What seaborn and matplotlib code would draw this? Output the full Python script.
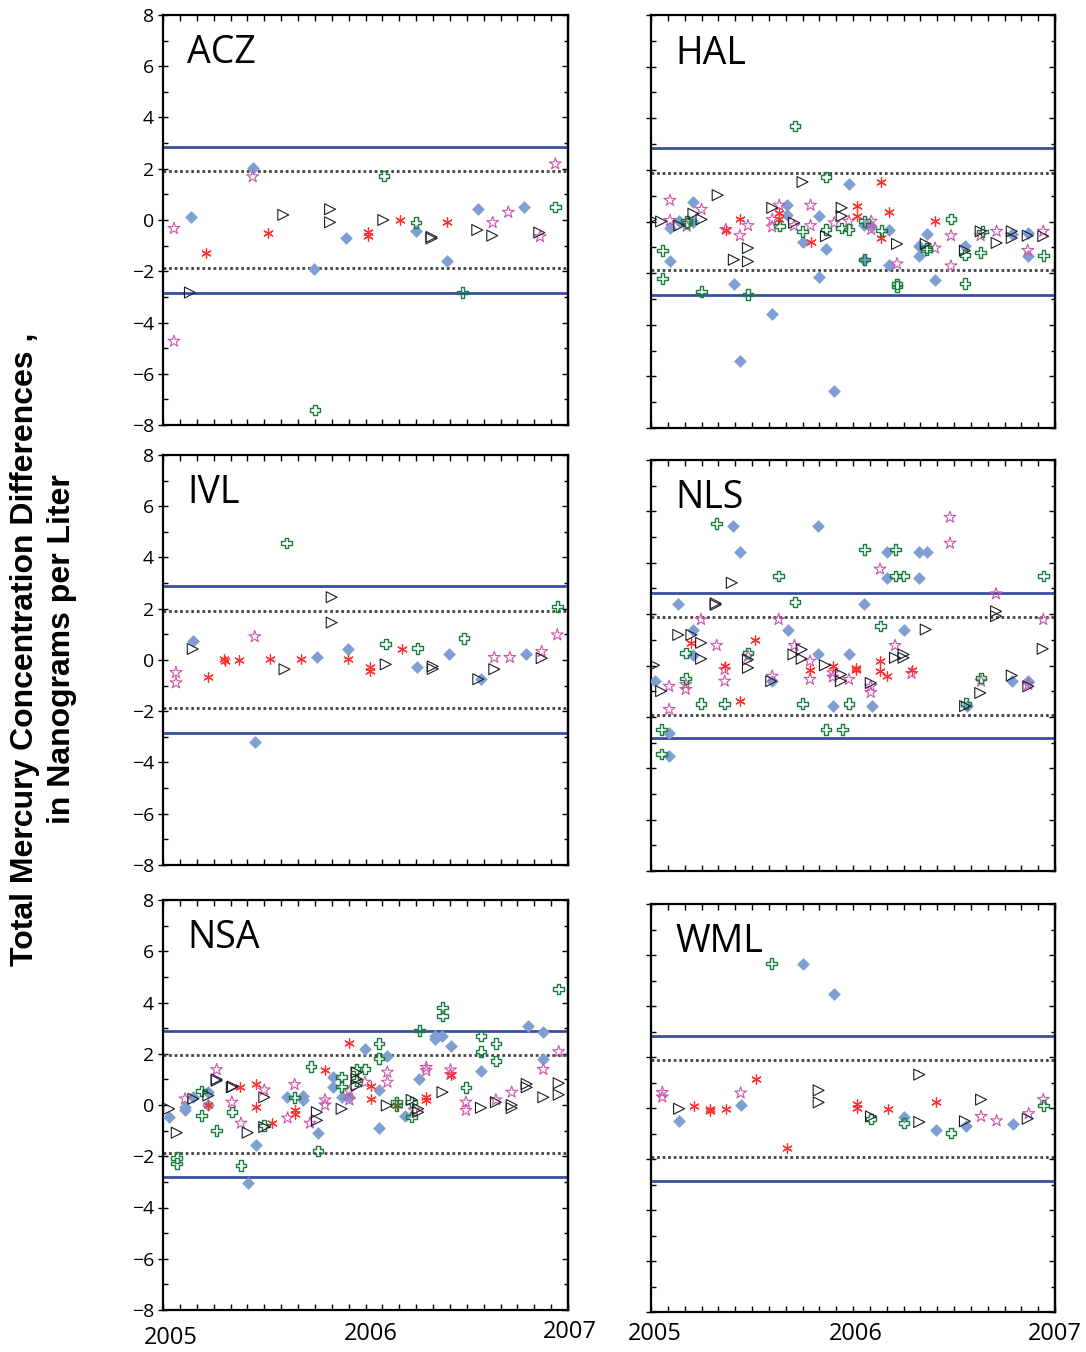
import numpy as np
import pandas as pd
import matplotlib
matplotlib.use("Agg")
import matplotlib.pyplot as plt
from matplotlib.ticker import MultipleLocator
from matplotlib.transforms import ScaledTranslation
import seaborn as sns

sns.set_theme(style="white")
plt.rcParams["font.family"] = ["Open Sans", "DejaVu Sans"]
plt.rcParams.update({"text.color": "black", "xtick.color": "black", "ytick.color": "black",
                     "axes.labelcolor": "black", "axes.edgecolor": "black"})

# ---- data: (decimal year, difference in ng/L) per site and sample pairing ----
ACZ_diamond = [(2005.137, 0.10), (2005.443, 2.02), (2005.748, -1.90), (2005.904, -0.69),
               (2006.249, -0.42), (2006.404, -1.60), (2006.554, 0.42), (2006.784, 0.50)]
ACZ_star = [(2005.054, -0.33), (2005.054, -4.73), (2005.443, 1.69), (2006.628, -0.10),
            (2006.705, 0.30), (2006.862, -0.65), (2006.937, 2.19)]
ACZ_asterisk = [(2005.210, -1.30), (2005.517, -0.52), (2006.012, -0.45), (2006.012, -0.62),
                (2006.170, 0.00), (2006.404, -0.09)]
ACZ_plus = [(2005.750, -7.42), (2006.091, 1.72), (2006.249, -0.09), (2006.478, -2.83),
            (2006.937, 0.50)]
ACZ_triangle = [(2005.133, -2.83), (2005.594, 0.20), (2005.825, 0.42), (2005.825, -0.09),
                (2006.088, 0.00), (2006.326, -0.66), (2006.326, -0.72), (2006.552, -0.39),
                (2006.626, -0.61), (2006.858, -0.49)]

HAL_diamond = [(2005.094, -0.25), (2005.094, -1.52), (2005.140, 0.01), (2005.210, 0.75),
               (2005.210, 0.00), (2005.410, -2.42), (2005.440, -5.39), (2005.600, -3.60),
               (2005.675, 0.63), (2005.675, 0.27), (2005.750, -0.81), (2005.830, 0.23),
               (2005.830, -2.14), (2005.866, -1.07), (2005.906, -6.56), (2005.980, 1.45),
               (2006.056, -0.12), (2006.056, -1.48), (2006.090, -0.16), (2006.180, -0.31),
               (2006.180, -1.68), (2006.328, -0.96), (2006.328, -1.33), (2006.365, -0.47),
               (2006.406, -2.27), (2006.554, -0.96), (2006.786, -0.47), (2006.865, -0.44),
               (2006.865, -1.33)]
HAL_star = [(2005.094, 0.82), (2005.094, 0.04), (2005.177, -0.18), (2005.250, 0.47),
            (2005.370, -0.31), (2005.440, -0.55), (2005.480, -0.16), (2005.600, 0.08),
            (2005.600, -0.21), (2005.635, 0.63), (2005.708, -0.16), (2005.790, 0.63),
            (2005.790, -0.16), (2005.907, -0.05), (2005.980, 0.01), (2006.090, -0.31),
            (2006.090, 0.01), (2006.218, -1.64), (2006.406, -1.03), (2006.485, -0.55),
            (2006.485, -1.72), (2006.632, -0.55), (2006.711, -0.38), (2006.865, -1.12),
            (2006.942, -0.38)]
HAL_asterisk = [(2005.370, -0.31), (2005.440, 0.10), (2005.635, 0.31), (2005.635, 0.08),
                (2005.790, -0.81), (2006.018, 0.60), (2006.018, 0.23), (2006.140, 1.53),
                (2006.140, -0.64), (2006.180, 0.36), (2006.406, 0.01)]
HAL_plus = [(2005.056, -1.13), (2005.056, -2.21), (2005.177, 0.01), (2005.177, -0.05),
            (2005.250, -2.72), (2005.480, -2.83), (2005.635, -0.18), (2005.713, 3.70),
            (2005.750, -0.38), (2005.866, -0.31), (2005.866, 1.73), (2005.944, -0.25),
            (2005.980, -0.31), (2006.056, 0.01), (2006.056, -1.48), (2006.140, -0.35),
            (2006.218, -2.42), (2006.218, -2.52), (2006.365, -1.03), (2006.365, -1.10),
            (2006.485, 0.10), (2006.554, -1.29), (2006.554, -2.40), (2006.632, -1.20),
            (2006.640, -0.38), (2006.942, -1.32)]
HAL_triangle = [(2005.000, 0.08), (2005.050, 0.00), (2005.140, -0.16), (2005.210, 0.30),
                (2005.250, 0.08), (2005.330, 1.02), (2005.410, -1.48), (2005.480, -1.03),
                (2005.480, -1.55), (2005.600, 0.53), (2005.708, -0.05), (2005.750, 1.53),
                (2005.866, -0.57), (2005.944, 0.53), (2005.944, 0.21), (2006.218, -0.87),
                (2006.360, -0.87), (2006.554, -1.13), (2006.632, -0.38), (2006.711, -0.83),
                (2006.786, -0.38), (2006.786, -0.64), (2006.865, -0.55), (2006.942, -0.57)]

IVL_diamond = [(2005.147, 0.74), (2005.453, -3.19), (2005.759, 0.13), (2005.912, 0.43),
               (2006.256, -0.26), (2006.414, 0.23), (2006.570, -0.75), (2006.793, 0.23)]
IVL_star = [(2005.064, -0.49), (2005.064, -0.89), (2005.453, 0.91), (2006.636, 0.10),
            (2006.713, 0.10), (2006.870, 0.33), (2006.947, 0.98)]
IVL_asterisk = [(2005.220, -0.68), (2005.300, 0.02), (2005.306, -0.02), (2005.375, 0.00),
                (2005.528, 0.03), (2005.681, 0.03), (2005.912, 0.03), (2006.022, -0.29),
                (2006.022, -0.42), (2006.182, 0.42)]
IVL_plus = [(2005.610, 4.57), (2006.100, 0.63), (2006.256, 0.46), (2006.486, 0.85),
            (2006.947, 2.08)]
IVL_triangle = [(2005.147, 0.43), (2005.600, -0.36), (2005.833, 2.45), (2005.833, 1.46),
                (2006.100, -0.17), (2006.332, -0.25), (2006.332, -0.35), (2006.557, -0.75),
                (2006.636, -0.36), (2006.870, 0.07)]

NLS_diamond = [(2005.020, -0.61), (2005.090, -2.61), (2005.090, -3.54), (2005.135, 2.40),
               (2005.210, 1.40), (2005.210, 0.39), (2005.404, 5.42), (2005.440, 4.41),
               (2005.600, -0.61), (2005.677, 1.40), (2005.825, 5.42), (2005.825, 0.43),
               (2005.900, -1.58), (2005.980, 0.43), (2006.056, 2.38), (2006.093, -1.58),
               (2006.170, 4.41), (2006.170, 3.39), (2006.250, 1.40), (2006.328, 4.41),
               (2006.365, 4.41), (2006.328, 3.39), (2006.563, -1.58), (2006.786, -0.61),
               (2006.868, -0.61)]
NLS_star = [(2005.090, -0.81), (2005.090, -1.71), (2005.172, -0.74), (2005.172, -0.93),
            (2005.248, 1.79), (2005.325, 0.78), (2005.365, -0.16), (2005.365, -0.61),
            (2005.480, 0.36), (2005.600, -0.42), (2005.632, 1.79), (2005.710, 0.78),
            (2005.787, 0.17), (2005.787, -0.54), (2005.900, -0.28), (2005.900, -0.45),
            (2005.980, -0.54), (2006.088, -0.81), (2006.088, -1.05), (2006.134, 3.75),
            (2006.208, 0.78), (2006.290, -0.31), (2006.480, 5.77), (2006.480, 4.76),
            (2006.634, -0.61), (2006.708, 2.79), (2006.868, -0.74), (2006.942, 1.79)]
NLS_asterisk = [(2005.200, 0.88), (2005.365, -0.03), (2005.440, -1.39), (2005.516, 1.00),
                (2005.787, -0.16), (2005.900, -0.03), (2006.015, -0.10), (2006.015, -0.17),
                (2006.134, 0.19), (2006.134, -0.22), (2006.170, -0.39), (2006.290, -0.16)]
NLS_plus = [(2005.053, -2.49), (2005.053, -3.44), (2005.172, 0.49), (2005.172, -0.51),
            (2005.248, -1.49), (2005.325, 5.53), (2005.365, -1.49), (2005.480, 0.49),
            (2005.632, 3.48), (2005.713, 2.48), (2005.750, -1.49), (2005.866, -2.49),
            (2005.947, -2.49), (2005.980, -1.49), (2006.056, 4.51), (2006.137, 1.53),
            (2006.210, 4.51), (2006.210, 3.48), (2006.250, 3.48), (2006.560, -1.49),
            (2006.634, -0.48), (2006.942, 3.48)]
NLS_triangle = [(2005.015, 0.01), (2005.050, -1.00), (2005.135, 1.19), (2005.200, 1.19),
                (2005.248, 0.88), (2005.248, 0.26), (2005.320, 2.42), (2005.320, 2.36),
                (2005.400, 3.22), (2005.480, 0.23), (2005.480, -0.09), (2005.595, -0.61),
                (2005.705, 0.43), (2005.746, 0.62), (2005.746, 0.26), (2005.861, 0.01),
                (2005.940, -0.35), (2005.940, -0.61), (2006.088, -0.68), (2006.208, 0.30),
                (2006.250, 0.43), (2006.250, 0.30), (2006.360, 1.40), (2006.555, -1.58),
                (2006.630, -1.07), (2006.708, 2.11), (2006.708, 1.92), (2006.786, -0.39),
                (2006.868, -0.81), (2006.939, 0.65)]

NSA_diamond = [(2005.030, -0.47), (2005.109, -0.09), (2005.109, -0.21), (2005.150, 0.30),
               (2005.224, 0.50), (2005.224, 0.00), (2005.420, -3.06), (2005.460, -1.58),
               (2005.610, 0.30), (2005.690, 0.37), (2005.690, 0.20), (2005.765, -1.08),
               (2005.840, 1.10), (2005.840, 0.72), (2005.882, 0.30), (2005.920, 0.30),
               (2005.997, 2.20), (2006.067, 0.59), (2006.067, -0.89), (2006.108, 1.93),
               (2006.195, -0.41), (2006.266, 1.02), (2006.343, 2.70), (2006.343, 2.58),
               (2006.380, 2.70), (2006.420, 2.31), (2006.570, 1.32), (2006.800, 3.09),
               (2006.878, 2.83), (2006.878, 1.80)]
NSA_star = [(2005.109, 0.24), (2005.265, 1.38), (2005.340, 0.11), (2005.385, -0.71),
            (2005.500, 0.59), (2005.615, -0.51), (2005.650, 0.80), (2005.726, -0.71),
            (2005.800, 0.20), (2005.800, 0.00), (2005.920, 0.54), (2005.920, 0.20),
            (2005.997, 0.89), (2006.108, 1.28), (2006.108, 0.89), (2006.240, -0.20),
            (2006.300, 1.47), (2006.300, 1.34), (2006.420, 1.37), (2006.420, 1.19),
            (2006.496, 0.11), (2006.496, -0.21), (2006.644, 0.20), (2006.722, 0.50),
            (2006.878, 1.39), (2006.954, 2.08)]
NSA_asterisk = [(2005.224, 0.00), (2005.380, 0.72), (2005.460, 0.82), (2005.460, -0.09),
                (2005.537, -0.71), (2005.650, -0.21), (2005.650, -0.37), (2005.800, 1.36),
                (2005.918, 2.42), (2006.027, 0.76), (2006.027, 0.24), (2006.154, 0.00),
                (2006.300, 0.31), (2006.300, 0.18), (2006.420, 1.19)]
NSA_plus = [(2005.068, -2.06), (2005.068, -2.29), (2005.190, 0.54), (2005.190, -0.41),
            (2005.265, -0.99), (2005.340, -0.28), (2005.385, -2.36), (2005.500, -0.80),
            (2005.650, 0.30), (2005.730, 1.51), (2005.765, -1.80), (2005.882, 1.10),
            (2005.882, 0.72), (2005.956, 1.41), (2005.997, 1.41), (2005.956, 0.95),
            (2006.067, 2.40), (2006.067, 1.82), (2006.154, -0.02), (2006.154, 0.11),
            (2006.228, 0.11), (2006.228, -0.47), (2006.266, 2.90), (2006.380, 3.80),
            (2006.380, 3.48), (2006.496, 0.69), (2006.570, 2.70), (2006.570, 2.09),
            (2006.644, 2.40), (2006.644, 1.72), (2006.954, 4.53)]
NSA_triangle = [(2005.030, -0.15), (2005.068, -1.08), (2005.150, 0.24), (2005.224, 0.37),
                (2005.265, 0.95), (2005.265, 1.00), (2005.340, 0.69), (2005.345, 0.72),
                (2005.418, -1.08), (2005.500, 0.30), (2005.500, -0.86), (2005.760, -0.28),
                (2005.760, -0.60), (2005.882, -0.15), (2005.956, 1.27), (2005.956, 1.02),
                (2005.956, 0.76), (2006.105, -0.02), (2006.228, 0.20), (2006.260, -0.15),
                (2006.260, -0.28), (2006.380, 0.50), (2006.570, -0.11), (2006.644, 0.11),
                (2006.722, 0.00), (2006.722, -0.12), (2006.796, 0.82), (2006.796, 0.69),
                (2006.878, 0.30), (2006.954, 0.85), (2006.954, 0.40)]

WML_diamond = [(2005.139, -0.50), (2005.444, 0.10), (2005.754, 5.66), (2005.906, 4.48),
               (2006.252, -0.35), (2006.410, -0.88), (2006.560, -0.69), (2006.790, -0.62)]
WML_star = [(2005.056, 0.61), (2005.056, 0.43), (2005.444, 0.59), (2006.634, -0.33),
            (2006.711, -0.50), (2006.870, -0.22), (2006.942, 0.33)]
WML_asterisk = [(2005.213, 0.06), (2005.292, -0.05), (2005.292, -0.13), (2005.370, -0.03),
                (2005.520, 1.14), (2005.675, -1.57), (2006.018, 0.17), (2006.018, 0.00),
                (2006.175, -0.04), (2006.410, 0.24)]
WML_plus = [(2005.597, 5.66), (2006.089, -0.43), (2006.252, -0.59), (2006.485, -0.98),
            (2006.942, 0.10)]
WML_triangle = [(2005.139, -0.03), (2005.830, 0.69), (2005.830, 0.22), (2006.089, -0.33),
                (2006.328, 1.31), (2006.328, -0.55), (2006.554, -0.52), (2006.634, 0.33),
                (2006.865, -0.42)]

# control limits per site: (upper solid, lower solid, upper dotted, lower dotted)
ACZ_limits = (2.85, -2.85, 1.91, -1.88)
HAL_limits = (2.83, -2.83, 1.89, -1.88)
IVL_limits = (2.88, -2.83, 1.93, -1.87)
NLS_limits = (2.84, -2.83, 1.89, -1.91)
NSA_limits = (2.88, -2.82, 1.94, -1.88)
WML_limits = (2.84, -2.88, 1.89, -1.91)

year_labels = ["2005", "2006", "2007"]

sites = ["ACZ", "HAL", "IVL", "NLS", "NSA", "WML"]
series = {
    "ACZ": [ACZ_diamond, ACZ_star, ACZ_asterisk, ACZ_plus, ACZ_triangle],
    "HAL": [HAL_diamond, HAL_star, HAL_asterisk, HAL_plus, HAL_triangle],
    "IVL": [IVL_diamond, IVL_star, IVL_asterisk, IVL_plus, IVL_triangle],
    "NLS": [NLS_diamond, NLS_star, NLS_asterisk, NLS_plus, NLS_triangle],
    "NSA": [NSA_diamond, NSA_star, NSA_asterisk, NSA_plus, NSA_triangle],
    "WML": [WML_diamond, WML_star, WML_asterisk, WML_plus, WML_triangle],
}
limits = {"ACZ": ACZ_limits, "HAL": HAL_limits, "IVL": IVL_limits,
          "NLS": NLS_limits, "NSA": NSA_limits, "WML": WML_limits}

# marker styling for the five pairings
styles = [
    dict(marker="D", s=36, color="#7f9fd2", edgecolor="#7f9fd2", linewidth=0.5),
    dict(marker="*", s=80, color="#cc55aa", facecolor="none", edgecolor="#cc55aa", linewidth=0.8),
    dict(marker=(6, 2, 0), s=48, color="#ff3030", linewidth=0.9),
    dict(marker="P", s=58, color="#16803a", facecolor="none", edgecolor="#16803a", linewidth=1.0),
    dict(marker=">", s=62, color="#1c1c28", facecolor="none", edgecolor="#1c1c28", linewidth=0.8),
]

W, H = 1086, 1352
fig = plt.figure(figsize=(W / 100, H / 100), dpi=100)

# panel frames in pixels: (left, right, top, bottom)
frames = {
    "ACZ": (163, 568, 15, 425),
    "IVL": (163, 568, 455, 865),
    "NSA": (163, 568, 900, 1310),
    "HAL": (651, 1055, 15, 428),
    "NLS": (651, 1055, 460, 871),
    "WML": (651, 1055, 904, 1312),
}
# small pixel nudges for the year labels (dx, dy)
year_nudge = {
    "NSA": [(8, -6), (5, -2), (2, 0)],
    "WML": [(4, 0), (3, 0), (0, 0)],
}

for site in sites:
    l, r, t, b = frames[site]
    ax = fig.add_axes([l / W, 1 - b / H, (r - l) / W, (b - t) / H])
    uhi, ulo, dhi, dlo = limits[site]
    ax.axhline(uhi, color="#3a4e9f", lw=2.0, zorder=1)
    ax.axhline(ulo, color="#3a4e9f", lw=2.0, zorder=1)
    ax.axhline(dhi, color="#444444", lw=2.0, ls=(0, (1.0, 1.0)), zorder=1)
    ax.axhline(dlo, color="#444444", lw=2.0, ls=(0, (1.0, 1.0)), zorder=1)

    for pts, st in zip(series[site], styles):
        df = pd.DataFrame(pts, columns=["year", "diff"])
        sns.scatterplot(data=df, x="year", y="diff", ax=ax, legend=False, zorder=3, **st)

    ax.set_xlim(2005, 2007)
    ax.set_ylim(-8, 8)
    ax.set_xlabel("")
    ax.set_ylabel("")
    ax.grid(False)
    for sp in ax.spines.values():
        sp.set_visible(True)
        sp.set_color("black")
        sp.set_linewidth(1.6)

    ax.xaxis.set_major_locator(MultipleLocator(1))
    ax.xaxis.set_minor_locator(MultipleLocator(1 / 12))
    ax.yaxis.set_major_locator(MultipleLocator(2))
    ax.yaxis.set_minor_locator(MultipleLocator(1))
    ax.tick_params(axis="x", which="both", direction="in", top=True, bottom=True,
                   length=4, width=1.0, color="black")
    ax.tick_params(axis="y", which="major", direction="inout", left=True, right=False,
                   length=7, width=1.0, color="black", labelsize=14, pad=3)
    ax.tick_params(axis="y", which="minor", direction="in", left=True, right=False,
                   length=3.5, width=1.0, color="black")
    sec = ax.secondary_yaxis("right")
    sec.yaxis.set_major_locator(MultipleLocator(2))
    sec.yaxis.set_minor_locator(MultipleLocator(1))
    sec.tick_params(which="major", direction="in", length=4, width=1.0, labelright=False)
    sec.tick_params(which="minor", direction="in", length=3, width=1.0, labelright=False)
    sec.spines["right"].set_linewidth(1.6)

    if site in ("ACZ", "IVL", "NSA"):
        ax.set_yticks(np.arange(-8, 9, 2))
        ax.set_yticklabels([f"{v}" if v >= 0 else f"\u2212{abs(v)}" for v in range(-8, 9, 2)])
    else:
        ax.tick_params(axis="y", which="both", labelleft=False)

    if site in year_nudge:
        ax.set_xticks([2005, 2006, 2007])
        ax.set_xticklabels(year_labels, fontsize=17)
        ax.tick_params(axis="x", which="major", pad=7)
        for lab, (dx, dy) in zip(ax.get_xticklabels(), year_nudge[site]):
            lab.set_transform(lab.get_transform() +
                              ScaledTranslation(dx / 100, dy / 100, fig.dpi_scale_trans))
    else:
        ax.tick_params(axis="x", which="both", labelbottom=False)

    ax.text(0.06, 0.882, site, transform=ax.transAxes, fontsize=27,
            ha="left", va="baseline", color="black")

fig.text(0.04, 0.52, "Total Mercury Concentration Differences ,\nin Nanograms per Liter",
         rotation=90, ha="center", va="center", multialignment="center",
         fontsize=23, fontweight="bold", family=["Liberation Sans", "DejaVu Sans"],
         linespacing=1.3)

fig.savefig("out.png", dpi=100)
